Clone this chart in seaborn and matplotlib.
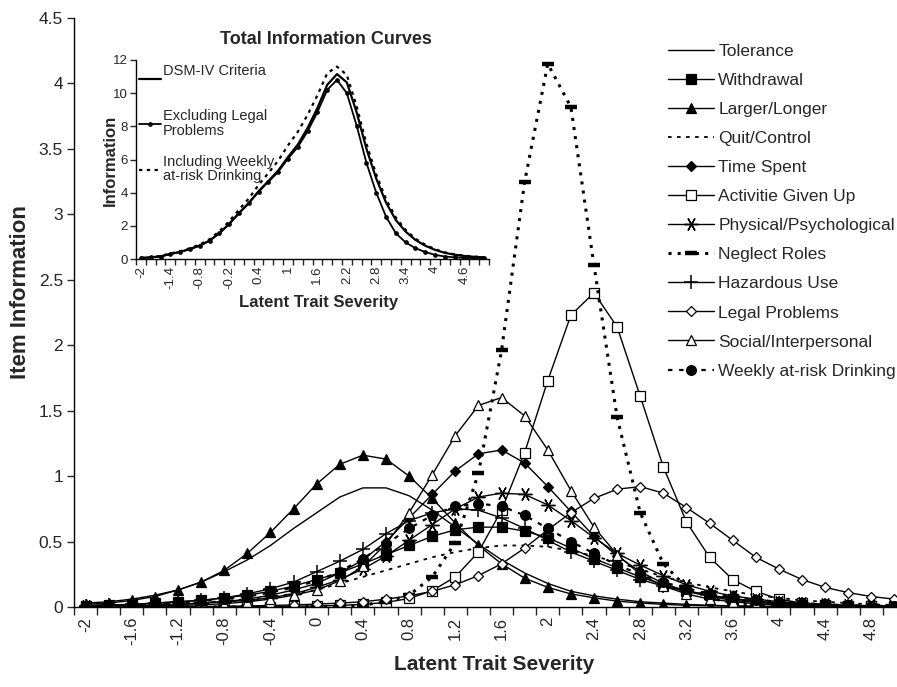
import matplotlib
matplotlib.use("Agg")
import matplotlib.pyplot as plt
import seaborn as sns
from matplotlib.ticker import FuncFormatter

# latent trait grid (category axis, 0.2 steps)
theta = [-2.0, -1.8, -1.6, -1.4, -1.2, -1.0, -0.8, -0.6, -0.4, -0.2, 0.0, 0.2,
         0.4, 0.6, 0.8, 1.0, 1.2, 1.4, 1.6, 1.8, 2.0, 2.2, 2.4, 2.6, 2.8, 3.0,
         3.2, 3.4, 3.6, 3.8, 4.0, 4.2, 4.4, 4.6, 4.8, 5.0]

# item information curves
tolerance = [0.03, 0.04, 0.06, 0.09, 0.13, 0.19, 0.27, 0.36, 0.47, 0.60, 0.72, 0.84,
             0.91, 0.91, 0.85, 0.74, 0.61, 0.48, 0.36, 0.26, 0.18, 0.12, 0.085, 0.06,
             0.04, 0.03, 0.02, 0.013, 0.009, 0.006, 0.004, 0.003, 0.002, 0.001, 0.001, 0.001]
withdrawal = [0.01, 0.015, 0.02, 0.03, 0.04, 0.05, 0.07, 0.09, 0.12, 0.16, 0.21, 0.26,
              0.33, 0.40, 0.47, 0.54, 0.59, 0.61, 0.61, 0.58, 0.53, 0.45, 0.37, 0.30,
              0.23, 0.17, 0.125, 0.09, 0.06, 0.04, 0.03, 0.02, 0.013, 0.009, 0.006, 0.004]
larger_longer = [0.02, 0.03, 0.05, 0.08, 0.13, 0.19, 0.28, 0.41, 0.57, 0.75, 0.94, 1.09,
                 1.16, 1.13, 1.00, 0.83, 0.64, 0.47, 0.33, 0.22, 0.15, 0.10, 0.07, 0.045,
                 0.03, 0.02, 0.013, 0.009, 0.006, 0.004, 0.003, 0.002, 0.001, 0.001, 0.0, 0.0]
quit_control = [0.008, 0.01, 0.015, 0.02, 0.025, 0.035, 0.045, 0.06, 0.08, 0.10, 0.13, 0.18,
                0.23, 0.28, 0.33, 0.38, 0.42, 0.45, 0.47, 0.47, 0.46, 0.43, 0.39, 0.34,
                0.29, 0.23, 0.19, 0.15, 0.12, 0.09, 0.07, 0.05, 0.04, 0.03, 0.02, 0.015]
time_spent = [0.004, 0.006, 0.009, 0.013, 0.02, 0.03, 0.04, 0.06, 0.09, 0.13, 0.18, 0.26,
              0.36, 0.50, 0.68, 0.86, 1.04, 1.17, 1.20, 1.10, 0.92, 0.73, 0.54, 0.39,
              0.27, 0.18, 0.12, 0.08, 0.05, 0.035, 0.022, 0.015, 0.01, 0.006, 0.004, 0.003]
activities = [0.0, 0.0, 0.0, 0.0, 0.0, 0.001, 0.001, 0.002, 0.003, 0.005, 0.008, 0.012,
              0.02, 0.035, 0.065, 0.125, 0.23, 0.42, 0.74, 1.18, 1.73, 2.23, 2.40, 2.14,
              1.61, 1.07, 0.65, 0.38, 0.21, 0.12, 0.06, 0.03, 0.016, 0.008, 0.004, 0.002]
physical = [0.005, 0.007, 0.01, 0.015, 0.02, 0.03, 0.04, 0.05, 0.07, 0.10, 0.15, 0.21,
            0.29, 0.39, 0.51, 0.63, 0.75, 0.84, 0.87, 0.86, 0.78, 0.66, 0.53, 0.41,
            0.32, 0.24, 0.17, 0.12, 0.085, 0.06, 0.04, 0.03, 0.02, 0.014, 0.01, 0.007]
neglect = [0.0, 0.0, 0.0, 0.0, 0.0, 0.0, 0.0, 0.0, 0.001, 0.002, 0.003, 0.006,
           0.015, 0.04, 0.09, 0.23, 0.49, 1.02, 1.96, 3.25, 4.15, 3.82, 2.61, 1.45,
           0.72, 0.33, 0.15, 0.07, 0.03, 0.012, 0.005, 0.002, 0.001, 0.0, 0.0, 0.0]
hazardous = [0.01, 0.015, 0.02, 0.03, 0.04, 0.05, 0.07, 0.10, 0.14, 0.19, 0.27, 0.35,
             0.44, 0.56, 0.66, 0.72, 0.75, 0.74, 0.68, 0.60, 0.51, 0.42, 0.35, 0.28,
             0.21, 0.16, 0.12, 0.09, 0.065, 0.045, 0.03, 0.02, 0.015, 0.01, 0.007, 0.005]
legal = [0.0, 0.001, 0.001, 0.002, 0.003, 0.004, 0.006, 0.008, 0.012, 0.016, 0.022, 0.03,
         0.04, 0.06, 0.085, 0.12, 0.17, 0.24, 0.33, 0.45, 0.59, 0.72, 0.83, 0.90,
         0.92, 0.87, 0.76, 0.64, 0.51, 0.38, 0.29, 0.21, 0.15, 0.11, 0.08, 0.06]
social = [0.003, 0.004, 0.006, 0.008, 0.012, 0.017, 0.025, 0.04, 0.06, 0.09, 0.13, 0.20,
          0.31, 0.48, 0.72, 1.01, 1.31, 1.54, 1.60, 1.46, 1.20, 0.89, 0.61, 0.40,
          0.25, 0.16, 0.10, 0.06, 0.04, 0.025, 0.015, 0.01, 0.006, 0.004, 0.002, 0.001]
weekly = [0.008, 0.012, 0.017, 0.025, 0.035, 0.045, 0.06, 0.08, 0.11, 0.15, 0.20, 0.27,
          0.37, 0.48, 0.60, 0.70, 0.77, 0.79, 0.77, 0.70, 0.60, 0.50, 0.41, 0.32,
          0.25, 0.19, 0.14, 0.10, 0.075, 0.055, 0.04, 0.03, 0.02, 0.015, 0.01, 0.007]

# total information curves (inset)
total_dsm = [0.06, 0.1, 0.16, 0.3, 0.43, 0.6, 0.81, 1.11, 1.56, 2.12, 2.77, 3.38,
             4.09, 4.7, 5.33, 6.15, 6.9, 7.9, 9.1, 10.5, 11.15, 10.65, 8.85, 6.65,
             4.85, 3.4, 2.35, 1.65, 1.15, 0.8, 0.55, 0.37, 0.26, 0.18, 0.13, 0.1]
total_excl_legal = [0.06, 0.1, 0.15, 0.3, 0.42, 0.6, 0.8, 1.1, 1.55, 2.1, 2.75, 3.35,
                    4.05, 4.65, 5.25, 6.05, 6.75, 7.7, 8.85, 10.2, 10.8, 10.0, 8.05, 5.8,
                    4.0, 2.55, 1.55, 1.0, 0.65, 0.42, 0.25, 0.15, 0.1, 0.07, 0.05, 0.04]
total_incl_weekly = [0.07, 0.11, 0.18, 0.33, 0.47, 0.65, 0.87, 1.19, 1.67, 2.27, 2.97, 3.65,
                     4.46, 5.18, 5.93, 6.85, 7.67, 8.69, 9.87, 11.2, 11.6, 11.1, 9.2, 6.95,
                     5.1, 3.6, 2.5, 1.75, 1.22, 0.86, 0.59, 0.4, 0.28, 0.2, 0.14, 0.11]

x_ticklabels = ['-2', '-1.6', '-1.2', '-0.8', '-0.4', '0', '0.4', '0.8', '1.2', '1.6',
                '2', '2.4', '2.8', '3.2', '3.6', '4', '4.4', '4.8']
inset_ticklabels = ['-2', '-1.4', '-0.8', '-0.2', '0.4', '1', '1.6', '2.2', '2.8',
                    '3.4', '4', '4.6']

item_names = ['Tolerance', 'Withdrawal', 'Larger/Longer', 'Quit/Control', 'Time Spent',
              'Activitie Given Up', 'Physical/Psychological', 'Neglect Roles',
              'Hazardous Use', 'Legal Problems', 'Social/Interpersonal',
              'Weekly at-risk Drinking']
item_values = [tolerance, withdrawal, larger_longer, quit_control, time_spent, activities,
               physical, neglect, hazardous, legal, social, weekly]

styles = {
    'Tolerance': dict(marker=None, linestyle='-'),
    'Withdrawal': dict(marker='s', markersize=6.5, markerfacecolor='k'),
    'Larger/Longer': dict(marker='^', markersize=7, markerfacecolor='k'),
    'Quit/Control': dict(marker=None, linestyle=(0, (2, 3)), linewidth=1.3),
    'Time Spent': dict(marker='D', markersize=5, markerfacecolor='k'),
    'Activitie Given Up': dict(marker='s', markersize=7.5, markerfacecolor='white'),
    'Physical/Psychological': dict(marker=(6, 2, 90), markersize=10, markeredgewidth=1.0),
    'Neglect Roles': dict(marker='_', markersize=9, markeredgewidth=3.2,
                          linestyle=(0, (1, 2)), linewidth=2.2),
    'Hazardous Use': dict(marker='+', markersize=10, markeredgewidth=1.1),
    'Legal Problems': dict(marker='D', markersize=5.5, markerfacecolor='white'),
    'Social/Interpersonal': dict(marker='^', markersize=7, markerfacecolor='white'),
    'Weekly at-risk Drinking': dict(marker='o', markersize=7, markerfacecolor='k',
                                    linestyle=(0, (2, 3)), linewidth=1.6),
}

sns.set_style('ticks')
plt.rcParams['font.family'] = ['Liberation Sans', 'DejaVu Sans']

fig = plt.figure(figsize=(8.97, 6.87), dpi=100)
ax = fig.add_axes([74 / 897, 80 / 687, 832 / 897, 589 / 687])

for name, vals in zip(item_names, item_values):
    kw = dict(linestyle='-', linewidth=1.0, markeredgewidth=0.9)
    kw.update(styles[name])
    sns.lineplot(x=theta, y=vals, ax=ax, color='k', markeredgecolor='k',
                 label=name, **kw)

ax.set_xlim(-2.1, 5.1)
ax.set_ylim(0, 4.5)
bounds = [t - 0.1 for t in theta] + [theta[-1] + 0.1]
ax.set_xticks(bounds)
ax.set_xticklabels([])
ax.set_xticks([float(s) for s in x_ticklabels], minor=True)
ax.set_xticklabels(x_ticklabels, minor=True, rotation=90, fontsize=12)
ax.tick_params(axis='x', which='major', length=6, width=1, direction='out')
ax.tick_params(axis='x', which='minor', length=0, pad=7)
ax.set_yticks([0, 0.5, 1, 1.5, 2, 2.5, 3, 3.5, 4, 4.5])
ax.yaxis.set_major_formatter(FuncFormatter(lambda v, p: f'{v:g}'))
ax.tick_params(axis='y', length=5, width=1, labelsize=12.5, pad=3)
sns.despine(ax=ax)
for s in ['left', 'bottom']:
    ax.spines[s].set_linewidth(1.0)
    ax.spines[s].set_color('k')
ax.set_xlabel('')
ax.set_ylabel('')

leg = ax.legend(loc='upper left', bbox_to_anchor=(668 / 897, 1 - 44 / 687),
                bbox_transform=fig.transFigure, frameon=False, fontsize=12.5,
                handlelength=2.65, handletextpad=0.25, labelspacing=0.8,
                borderpad=0, borderaxespad=0)

fig.text(494 / 897, 1 - 665 / 687, 'Latent Trait Severity', ha='center', va='center',
         fontsize=15, fontweight='bold')
fig.text(20 / 897, 1 - 292 / 687, 'Item Information', ha='center', va='center',
         rotation=90, fontsize=16, fontweight='bold')

# inset: total information curves
axin = fig.add_axes([136 / 897, 428 / 687, 353 / 897, 199 / 687])
sns.lineplot(x=theta, y=total_dsm, ax=axin, color='k', linewidth=1.6,
             label='DSM-IV Criteria\n ')
sns.lineplot(x=theta, y=total_excl_legal, ax=axin, color='k', linewidth=1.3,
             marker='o', markersize=2.6, markeredgecolor='k', markerfacecolor='k',
             label='Excluding Legal\nProblems')
sns.lineplot(x=theta, y=total_incl_weekly, ax=axin, color='k', linewidth=1.6,
             linestyle=(0, (1.5, 2)), label='Including Weekly\nat-risk Drinking')
axin.set_xlim(-2.1, 5.1)
axin.set_ylim(0, 12)
axin.set_xticks(bounds)
axin.set_xticklabels([])
axin.set_xticks([float(s) for s in inset_ticklabels], minor=True)
axin.set_xticklabels(inset_ticklabels, minor=True, rotation=90, fontsize=9.5)
axin.tick_params(axis='x', which='major', length=4, width=1, direction='out')
axin.tick_params(axis='x', which='minor', length=0, pad=5)
axin.set_yticks([0, 2, 4, 6, 8, 10, 12])
axin.tick_params(axis='y', length=4, width=1, labelsize=9.5, pad=2)
sns.despine(ax=axin)
for s in ['left', 'bottom']:
    axin.spines[s].set_linewidth(1.0)
    axin.spines[s].set_color('k')
axin.set_xlabel('')
axin.set_ylabel('')
leg2 = axin.legend(loc='upper left', bbox_to_anchor=(139 / 897, 1 - 64 / 687),
                   bbox_transform=fig.transFigure, frameon=False, fontsize=10.5,
                   handlelength=1.5, handletextpad=0.15, labelspacing=1.16,
                   borderpad=0, borderaxespad=0)
for t in leg2.get_texts():
    t.set_linespacing(1.05)

fig.text(326 / 897, 1 - 40 / 687, 'Total Information Curves', ha='center', va='center',
         fontsize=13, fontweight='bold')
fig.text(319 / 897, 1 - 302 / 687, 'Latent Trait Severity', ha='center', va='center',
         fontsize=12, fontweight='bold')
fig.text(110 / 897, 1 - 160 / 687, 'Information', ha='center', va='center',
         rotation=90, fontsize=12, fontweight='bold')

fig.savefig('out.png', dpi=100, facecolor='white')
